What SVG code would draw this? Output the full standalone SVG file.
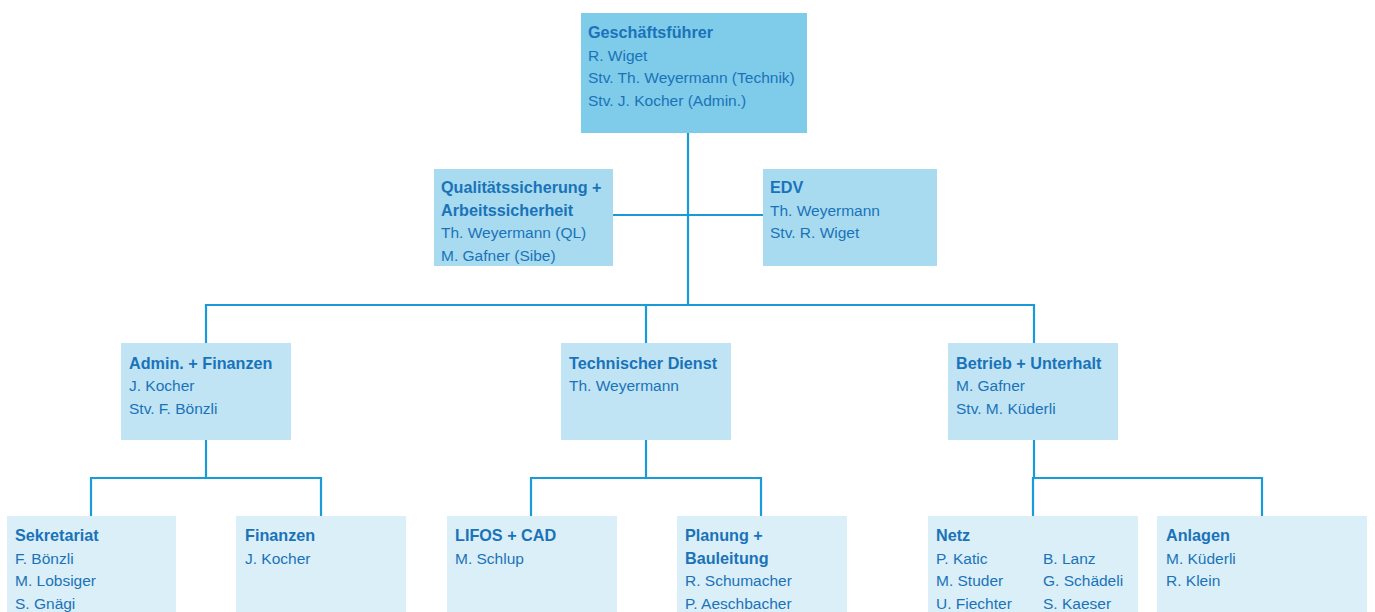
<svg xmlns="http://www.w3.org/2000/svg" width="1375" height="612" viewBox="0 0 1375 612">
<style>
text{font-family:"Liberation Sans",Arial,sans-serif;font-size:15.5px;fill:#1a73b9}
.b{font-weight:bold;font-size:16.2px}
.c line,.c polyline{stroke:#1a9ad6;stroke-width:2.2;fill:none}
.l0{fill:#7fcbea}.l1{fill:#a8dbf0}.l2{fill:#c0e4f4}.l3{fill:#daeff8}
</style>
<rect width="1375" height="612" fill="#fff"/>
<g class="c" id="connectors">
<line x1="688" y1="133" x2="688" y2="306"/>
<line x1="613" y1="215" x2="763" y2="215"/>
<polyline points="206,343 206,305 1034,305 1034,343"/>
<line x1="646" y1="305" x2="646" y2="343"/>
<line x1="206" y1="440" x2="206" y2="478"/>
<polyline points="91,516 91,478 321,478 321,516"/>
<line x1="646" y1="440" x2="646" y2="478"/>
<polyline points="531,516 531,478 761,478 761,516"/>
<line x1="1034" y1="440" x2="1034" y2="478"/>
<polyline points="1033,516 1033,478 1262,478 1262,516"/>
</g>
<g id="gf">
<rect class="l0" x="581" y="13" width="226" height="120"/>
<text x="588" y="38" class="b">Geschäftsführer</text>
<text x="588" y="61">R. Wiget</text>
<text x="588" y="83">Stv. Th. Weyermann (Technik)</text>
<text x="588" y="106">Stv. J. Kocher (Admin.)</text>
</g>
<g id="qs">
<rect class="l1" x="434" y="169" width="179" height="97"/>
<text x="441" y="193" class="b">Qualitätssicherung +</text>
<text x="441" y="216" class="b">Arbeitssicherheit</text>
<text x="441" y="238">Th. Weyermann (QL)</text>
<text x="441" y="261">M. Gafner (Sibe)</text>
</g>
<g id="edv">
<rect class="l1" x="763" y="169" width="174" height="97"/>
<text x="770" y="193" class="b">EDV</text>
<text x="770" y="216">Th. Weyermann</text>
<text x="770" y="238">Stv. R. Wiget</text>
</g>
<g id="admin">
<rect class="l2" x="121" y="343" width="170" height="97"/>
<text x="129" y="369" class="b">Admin. + Finanzen</text>
<text x="129" y="391">J. Kocher</text>
<text x="129" y="414">Stv. F. Bönzli</text>
</g>
<g id="tech">
<rect class="l2" x="561" y="343" width="170" height="97"/>
<text x="569" y="369" class="b">Technischer Dienst</text>
<text x="569" y="391">Th. Weyermann</text>
</g>
<g id="betrieb">
<rect class="l2" x="948" y="343" width="170" height="97"/>
<text x="956" y="369" class="b">Betrieb + Unterhalt</text>
<text x="956" y="391">M. Gafner</text>
<text x="956" y="414">Stv. M. Küderli</text>
</g>
<g id="sekretariat">
<rect class="l3" x="7" y="516" width="169" height="100"/>
<text x="15" y="541" class="b">Sekretariat</text>
<text x="15" y="564">F. Bönzli</text>
<text x="15" y="586">M. Lobsiger</text>
<text x="15" y="609">S. Gnägi</text>
</g>
<g id="finanzen">
<rect class="l3" x="236" y="516" width="170" height="100"/>
<text x="245" y="541" class="b">Finanzen</text>
<text x="245" y="564">J. Kocher</text>
</g>
<g id="lifos">
<rect class="l3" x="447" y="516" width="170" height="100"/>
<text x="455" y="541" class="b">LIFOS + CAD</text>
<text x="455" y="564">M. Schlup</text>
</g>
<g id="planung">
<rect class="l3" x="677" y="516" width="170" height="100"/>
<text x="685" y="541" class="b">Planung +</text>
<text x="685" y="564" class="b">Bauleitung</text>
<text x="685" y="586">R. Schumacher</text>
<text x="685" y="609">P. Aeschbacher</text>
</g>
<g id="netz">
<rect class="l3" x="928" y="516" width="210" height="100"/>
<text x="936" y="541" class="b">Netz</text>
<text x="936" y="564">P. Katic</text>
<text x="936" y="586">M. Studer</text>
<text x="936" y="609">U. Fiechter</text>
<text x="1043" y="564">B. Lanz</text>
<text x="1043" y="586">G. Schädeli</text>
<text x="1043" y="609">S. Kaeser</text>
</g>
<g id="anlagen">
<rect class="l3" x="1157" y="516" width="210" height="100"/>
<text x="1166" y="541" class="b">Anlagen</text>
<text x="1166" y="564">M. Küderli</text>
<text x="1166" y="586">R. Klein</text>
</g>
</svg>
